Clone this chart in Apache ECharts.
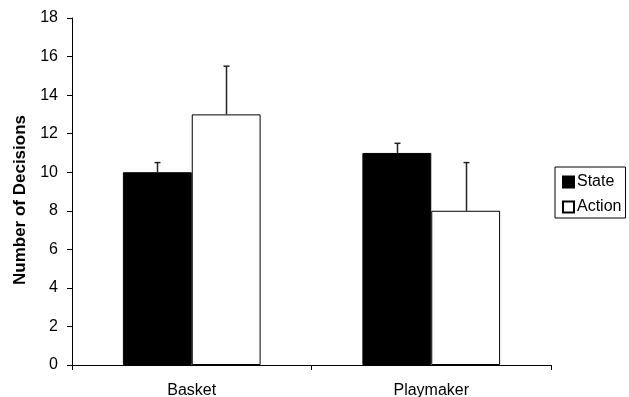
<!DOCTYPE html>
<html><head><meta charset="utf-8">
<script src="https://cdn.jsdelivr.net/npm/echarts@6/dist/echarts.min.js"></script>
<style>html,body{margin:0;padding:0;background:#fff}#c{width:629px;height:397px}</style>
</head><body><div id="c"></div>
<script>
var categories = ['Basket', 'Playmaker'];
var stateValues = [10, 11];
var actionValues = [13, 8];
var stateErrTop = [10.5, 11.5];
var actionErrTop = [15.5, 10.5];
var yTicks = [0, 2, 4, 6, 8, 10, 12, 14, 16, 18];

var gapPct = 0.425;
function errSeries(name, tops, side) {
  return {
    type: 'custom', name: name + ' err', z: 5, silent: true,
    data: tops.map(function (t, i) { return [i, t, (side < 0 ? stateValues : actionValues)[i]]; }),
    renderItem: function (params, api) {
      var band = api.size([1, 0])[0];
      var bw = band * (1 - gapPct) / 2;
      var off = side * bw / 2;
      var top = api.coord([api.value(0), api.value(1)]);
      var base = api.coord([api.value(0), api.value(2)]);
      var x = Math.round(top[0] + off) + 0.5;
      var cap = 3;
      return {
        type: 'group', children: [
          { type: 'line', shape: { x1: x, y1: base[1], x2: x, y2: top[1] }, style: { stroke: '#222', lineWidth: 1.5 } },
          { type: 'line', shape: { x1: x - cap, y1: top[1], x2: x + cap, y2: top[1] }, style: { stroke: '#222', lineWidth: 1.5 } }
        ]
      };
    }
  };
}

var chart = echarts.init(document.getElementById('c'));
chart.setOption({
  animation: false,
  textStyle: { fontFamily: 'Liberation Sans, Arial, sans-serif' },
  grid: { left: 72, right: 78, top: 18, bottom: 32, containLabel: false, outerBoundsMode: 'none' },
  legend: {
    orient: 'vertical', left: 555, top: 167,
    borderColor: '#000', borderWidth: 1, padding: [7, 4, 3, 7],
    itemWidth: 11, itemHeight: 11, itemGap: 9,
    icon: 'rect',
    textStyle: { fontSize: 16, color: '#000', padding: [0, 0, 0, -2] },
    data: ['State', 'Action']
  },
  xAxis: {
    type: 'category', data: categories,
    axisLine: { lineStyle: { color: '#000', width: 1 } },
    axisTick: { show: true, length: 5, lineStyle: { color: '#000' } },
    axisLabel: { fontSize: 16, color: '#000', margin: 18 }
  },
  yAxis: {
    type: 'value', min: 0, max: 18, interval: 2,
    name: 'Number of Decisions', nameLocation: 'middle', nameGap: 38,
    nameTextStyle: { fontSize: 17, fontWeight: 'bold', color: '#000', padding: [0, 0, 0, -17] },
    axisLine: { show: true, lineStyle: { color: '#000', width: 1 } },
    axisTick: { show: true, length: 5, lineStyle: { color: '#000' } },
    axisLabel: { fontSize: 16, color: '#000', margin: 14,
      formatter: function (v) { return yTicks.indexOf(v) >= 0 ? String(v) : ''; } },
    splitLine: { show: false }
  },
  series: [
    { name: 'State', type: 'bar', data: stateValues, barGap: '0%', barCategoryGap: (gapPct * 100) + '%',
      itemStyle: { color: '#000', borderColor: '#000', borderWidth: 1 } },
    { name: 'Action', type: 'bar', data: actionValues,
      itemStyle: { color: '#fff', borderColor: '#000', borderWidth: 1 } },
    errSeries('State', stateErrTop, -1),
    errSeries('Action', actionErrTop, 1)
  ]
});
</script></body></html>
